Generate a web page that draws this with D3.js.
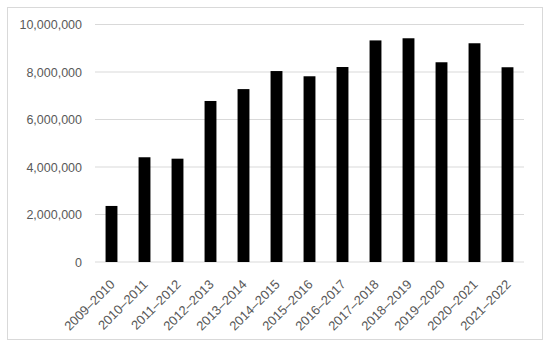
<!DOCTYPE html>
<html>
<head>
    <meta charset="utf-8">
    <script src="https://d3js.org/d3.v7.min.js"></script>
    <style>
        body { margin: 0; background: white; }
        text { font-family: "Liberation Sans", Arial, sans-serif; }
    </style>
</head>
<body>
<svg id="chart" width="550" height="348"></svg>
<script>
    var seasons = ["2009–2010", "2010–2011", "2011–2012", "2012–2013", "2013–2014", "2014–2015",
        "2015–2016", "2016–2017", "2017–2018", "2018–2019", "2019–2020", "2020–2021", "2021–2022"];
    var visitors = [2360000, 4410000, 4350000, 6780000, 7280000, 8040000,
        7820000, 8210000, 9330000, 9420000, 8410000, 9210000, 8200000];
    var yTicks = [0, 2000000, 4000000, 6000000, 8000000, 10000000];

    var svg = d3.select("#chart");
    var plotLeft = 95, plotRight = 524, plotTop = 24.5, plotBottom = 262;

    // chart border
    svg.append("rect")
        .attr("x", 7.5).attr("y", 7.5)
        .attr("width", 535).attr("height", 332)
        .attr("fill", "white")
        .attr("stroke", "#d9d9d9");

    var x = d3.scaleBand().domain(seasons).range([plotLeft, plotRight]).paddingInner(0.64).paddingOuter(0.32);
    var y = d3.scaleLinear().domain([0, 10000000]).range([plotBottom, plotTop]);

    // gridlines
    svg.selectAll(".grid")
        .data(yTicks)
        .enter().append("line")
        .attr("x1", plotLeft).attr("x2", plotRight)
        .attr("y1", function (d) { return y(d); })
        .attr("y2", function (d) { return y(d); })
        .attr("stroke", "#d9d9d9")
        .attr("stroke-width", 1);

    // y labels
    var yAxis = d3.axisLeft(y).tickValues(yTicks).tickSize(0).tickPadding(13)
        .tickFormat(d3.format(","));
    svg.append("g")
        .attr("transform", "translate(" + plotLeft + ",0)")
        .call(yAxis)
        .call(function (g) { g.select(".domain").remove(); })
        .selectAll("text")
        .attr("fill", "#595959")
        .style("font-size", "12.5px");

    // bars
    svg.selectAll(".bar")
        .data(visitors)
        .enter().append("rect")
        .attr("x", function (d, i) { return x(seasons[i]); })
        .attr("y", function (d) { return y(d); })
        .attr("width", x.bandwidth())
        .attr("height", function (d) { return plotBottom - y(d); })
        .attr("fill", "black");

    // x labels
    var xAxis = d3.axisBottom(x).tickSize(0).tickPadding(0);
    svg.append("g")
        .attr("transform", "translate(0," + plotBottom + ")")
        .call(xAxis)
        .call(function (g) { g.select(".domain").remove(); })
        .selectAll("text")
        .attr("fill", "#595959")
        .style("font-size", "13px")
        .attr("text-anchor", "end")
        .attr("dy", "0.35em")
        .attr("transform", "translate(1,20) rotate(-45)");
</script>
</body>
</html>
